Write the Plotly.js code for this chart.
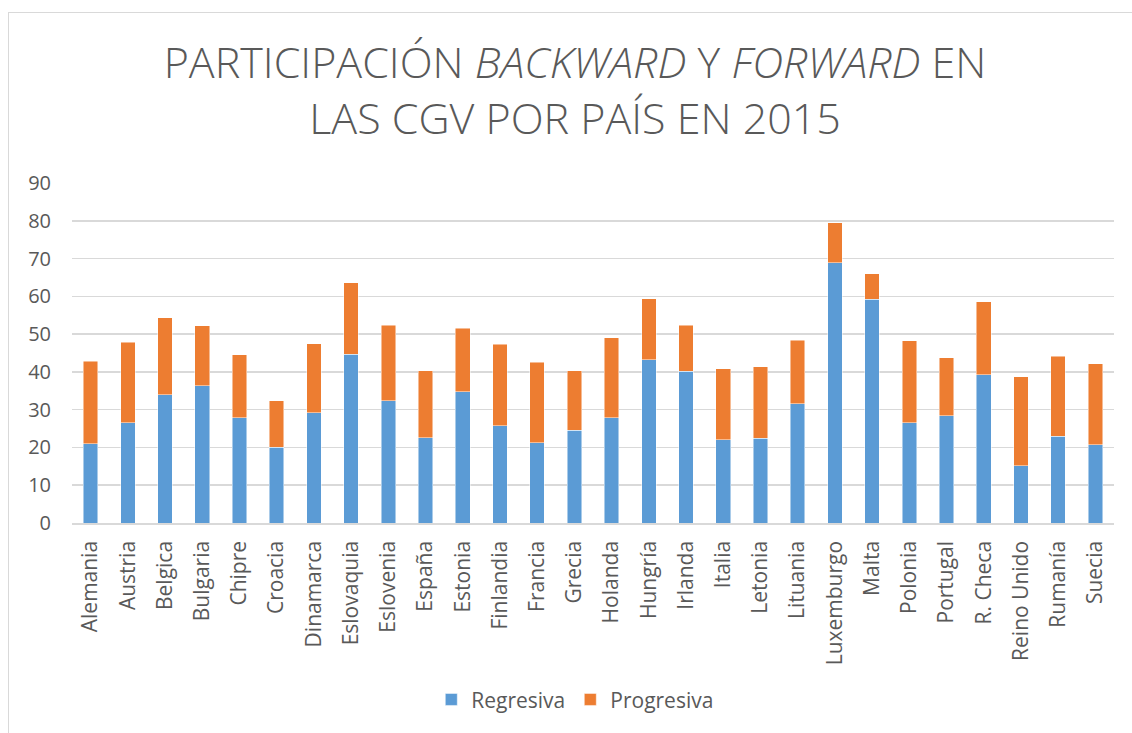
<!DOCTYPE html>
<html>
<head>
<meta charset="utf-8">
<script src="https://cdn.plot.ly/plotly-3.0.1.min.js"></script>
<style>
  html, body { margin: 0; padding: 0; background: #fff; overflow: hidden; }
  #frame { position: absolute; left: 8px; top: 12px; width: 1140px; height: 740px; border: 1.5px solid #d9d9d9; box-sizing: border-box; pointer-events: none; }
  #chart { position: absolute; left: 0; top: 0; width: 1132px; height: 733px; }
</style>
</head>
<body>
<div id="chart"></div>
<div id="frame"></div>
<script>
const countries = ["Alemania","Austria","Belgica","Bulgaria","Chipre","Croacia","Dinamarca","Eslovaquia","Eslovenia","España","Estonia","Finlandia","Francia","Grecia","Holanda","Hungría","Irlanda","Italia","Letonia","Lituania","Luxemburgo","Malta","Polonia","Portugal","R. Checa","Reino Unido","Rumanía","Suecia"];
const regresiva = [21.0,26.6,33.9,36.3,27.9,20.1,29.2,44.7,32.4,22.6,34.7,25.8,21.3,24.5,27.9,43.2,40.2,22.1,22.4,31.6,68.9,59.2,26.6,28.4,39.2,15.1,22.9,20.7];
const progresiva = [21.8,21.3,20.4,15.9,16.7,12.3,18.2,18.9,20.0,17.7,16.9,21.5,21.2,15.8,21.2,16.1,12.2,18.7,18.9,16.8,10.6,6.8,21.6,15.4,19.4,23.6,21.3,21.5];
const yTicks = [0,10,20,30,40,50,60,70,80,90];
const titleText = "PARTICIPACIÓN <i>BACKWARD</i> Y <i>FORWARD</i> EN<br>LAS CGV POR PAÍS EN 2015";

const gray = "#595959";
const data = [
  { type: "bar", name: "Regresiva", x: countries, y: regresiva,
    marker: { color: "#5B9BD5", line: { color: "rgba(255,255,255,0.6)", width: 0.8 } } },
  { type: "bar", name: "Progresiva", x: countries, y: progresiva,
    marker: { color: "#ED7D31", line: { color: "rgba(255,255,255,0.6)", width: 0.8 } } }
];
const layout = {
  width: 1132, height: 733,
  barmode: "stack", bargap: 0.61,
  paper_bgcolor: "#fff", plot_bgcolor: "#fff",
  margin: { l: 72, r: 18, t: 183, b: 208 },
  font: { family: "Open Sans, sans-serif", color: gray, size: 20 },
  title: { text: titleText, x: 0.508, xanchor: "center", yref: "container", y: 1 - 78/733, yanchor: "top",
    font: { family: "Open Sans, sans-serif", size: 43, color: gray, weight: 300 } },
  xaxis: { type: "category", tickangle: -90, tickfont: { size: 21, color: gray },
    showgrid: false, showline: true, linecolor: "#d9d9d9", linewidth: 1.5, ticks: "", ticklabelstandoff: 8 },
  yaxis: { range: [0, 90], tickvals: yTicks, tickfont: { size: 20, color: gray },
    showgrid: true, gridcolor: "#d9d9d9", gridwidth: 1.5, zeroline: false,
    ticks: "", ticklabelstandoff: 20 },
  legend: { orientation: "h", traceorder: "normal", x: 0.483, xanchor: "center", y: -0.52, yanchor: "middle",
    font: { size: 21, color: gray }, itemwidth: 30 },
  showlegend: true
};
Plotly.newPlot("chart", data, layout, { displayModeBar: false, staticPlot: true });
</script>
</body>
</html>
